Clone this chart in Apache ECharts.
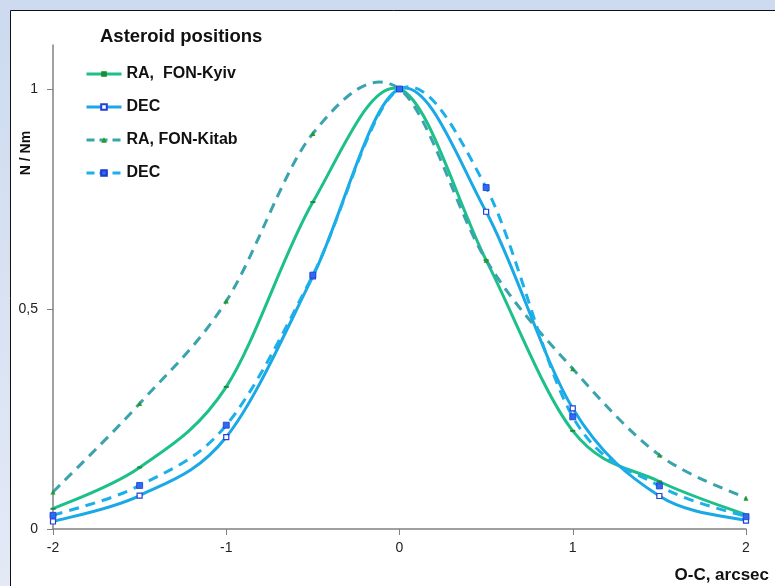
<!DOCTYPE html>
<html>
<head>
<meta charset="utf-8">
<script src="https://cdn.jsdelivr.net/npm/echarts@6/dist/echarts.min.js"></script>
<style>
  html, body { margin: 0; padding: 0; background: #fff; }
  #chart { width: 775px; height: 586px; }
</style>
</head>
<body>
<div id="chart"></div>
<script>
// O-C offsets (arcsec) at which the normalised counts were measured
const offsets = [-2, -1.5, -1, -0.5, 0, 0.5, 1, 1.5, 2];

// N / Nm distributions
const raKyiv  = [0.046, 0.140, 0.323, 0.743, 1.0, 0.611, 0.223, 0.108, 0.032];
const decKyiv = [0.017, 0.076, 0.209, 0.574, 1.0, 0.721, 0.274, 0.075, 0.019];
const raKitab = [0.084, 0.285, 0.518, 0.899, 1.0, 0.611, 0.364, 0.168, 0.070];
const decKitab= [0.031, 0.099, 0.236, 0.577, 1.0, 0.776, 0.255, 0.098, 0.028];

const yTicks = [0, 0.5, 1];
const xTicks = [-2, -1, 0, 1, 2];

const FONT = '"Liberation Sans", Arial, sans-serif';

function pairs(ys) { return offsets.map((x, i) => [x, ys[i]]); }

// Cardinal (Catmull-Rom) bezier through the projected data points
function curvePath(pts) {
  let d = 'M' + pts[0][0] + ',' + pts[0][1];
  for (let i = 0; i < pts.length - 1; i++) {
    const p0 = pts[i - 1] || pts[i];
    const p1 = pts[i];
    const p2 = pts[i + 1];
    const p3 = pts[i + 2] || pts[i + 1];
    const c1x = p1[0] + (p2[0] - p0[0]) / 6, c1y = p1[1] + (p2[1] - p0[1]) / 6;
    const c2x = p2[0] - (p3[0] - p1[0]) / 6, c2y = p2[1] - (p3[1] - p1[1]) / 6;
    d += ' C' + c1x + ',' + c1y + ' ' + c2x + ',' + c2y + ' ' + p2[0] + ',' + p2[1];
  }
  return d;
}

function curveSeries(id, ys, color, dash) {
  return {
    id: id, type: 'custom', coordinateSystem: 'cartesian2d',
    data: pairs(ys), encode: { x: 0, y: 1 }, silent: true, z: 2,
    renderItem: function (params, api) {
      if (params.dataIndex !== 0) return null;
      const pts = ys.map((y, i) => api.coord([offsets[i], y]));
      return {
        type: 'path',
        shape: { pathData: curvePath(pts) },
        style: { fill: 'none', stroke: color, lineWidth: 3, lineDash: dash || null }
      };
    }
  };
}

function markerSeries(name, ys, symbol, size, itemStyle) {
  return {
    name: name, type: 'line', data: pairs(ys), z: 4,
    lineStyle: { opacity: 0 },
    symbol: symbol, symbolSize: size, itemStyle: itemStyle
  };
}

const colKyiv = '#1dc08a', colDec = '#1aa8e6', colKitab = '#3aa3ad', colDec2 = '#1cb0ea';
const DASH = [10, 7];

const chart = echarts.init(document.getElementById('chart'), null, { renderer: 'canvas' });

chart.setOption({
  animation: false,
  textStyle: { fontFamily: FONT },
  graphic: [
    {
      type: 'rect', z: -10, silent: true,
      shape: { x: 0, y: 0, width: 775, height: 586 },
      style: {
        fill: new echarts.graphic.LinearGradient(0, 0, 0, 1, [
          { offset: 0, color: '#cddaef' },
          { offset: 1, color: '#e3eaf6' }
        ])
      }
    },
    {
      type: 'rect', z: -9, silent: true,
      shape: { x: 10.5, y: 10.5, width: 800, height: 600 },
      style: { fill: '#ffffff', stroke: '#111111', lineWidth: 1 }
    },
    {
      type: 'text', left: 100, top: 27,
      style: { text: 'Asteroid positions', font: 'bold 18.5px ' + FONT, fill: '#111' }
    },
    {
      type: 'text', x: 26, y: 153, rotation: Math.PI / 2,
      style: { text: 'N / Nm', font: 'bold 14px ' + FONT, fill: '#111',
               align: 'center', verticalAlign: 'middle' }
    },
    {
      type: 'text', right: 6, top: 567,
      style: { text: 'O-C, arcsec', font: 'bold 17px ' + FONT, fill: '#111' }
    }
  ],
  legend: {
    orient: 'vertical',
    left: 85, top: 66, padding: 0,
    itemWidth: 35, itemHeight: 7, itemGap: 17,
    textStyle: { fontFamily: FONT, fontSize: 16, fontWeight: 'bold', color: '#111' },
    data: [
      { name: 'RA,  FON-Kyiv', lineStyle: { color: colKyiv, width: 3, opacity: 1 } },
      { name: 'DEC', lineStyle: { color: colDec, width: 3, opacity: 1 } },
      { name: 'RA, FON-Kitab', lineStyle: { color: colKitab, width: 3, opacity: 1, type: [8, 5] } },
      { name: 'DEC ', lineStyle: { color: colDec2, width: 3, opacity: 1, type: [8, 5] } }
    ]
  },
  grid: { left: 53, right: 29, top: 45, bottom: 57 },
  xAxis: {
    type: 'value', min: -2, max: 2, interval: 1,
    axisLine: { onZero: false, lineStyle: { color: '#808080', width: 1.5 } },
    axisTick: { show: true, length: 6, lineStyle: { color: '#808080' } },
    axisLabel: { color: '#222', fontSize: 14, margin: 12, fontFamily: FONT,
                 customValues: xTicks },
    splitLine: { show: false }
  },
  yAxis: {
    type: 'value', min: 0, max: 1.1,
    axisLine: { show: true, onZero: false, lineStyle: { color: '#808080', width: 1.5 } },
    axisTick: { show: true, length: 6, lineStyle: { color: '#808080' }, customValues: yTicks },
    axisLabel: { color: '#222', fontSize: 14, margin: 15, fontFamily: FONT,
                 customValues: yTicks,
                 formatter: v => String(v).replace('.', ',') },
    splitLine: { show: false }
  },
  series: [
    curveSeries('curveKyivRA', raKyiv, colKyiv),
    curveSeries('curveKyivDEC', decKyiv, colDec),
    curveSeries('curveKitabRA', raKitab, colKitab, DASH),
    curveSeries('curveKitabDEC', decKitab, colDec2, DASH),
    markerSeries('RA,  FON-Kyiv', raKyiv, 'rect', [5, 2], { color: '#1a8c36' }),
    markerSeries('DEC', decKyiv, 'rect', 5,
                 { color: '#ffffff', borderColor: '#2140d8', borderWidth: 1.2 }),
    markerSeries('RA, FON-Kitab', raKitab, 'triangle', 5, { color: '#239a2c' }),
    markerSeries('DEC ', decKitab, 'rect', 6,
                 { color: '#2f6af0', borderColor: '#1a3bd0', borderWidth: 0.8 })
  ]
});
</script>
</body>
</html>
